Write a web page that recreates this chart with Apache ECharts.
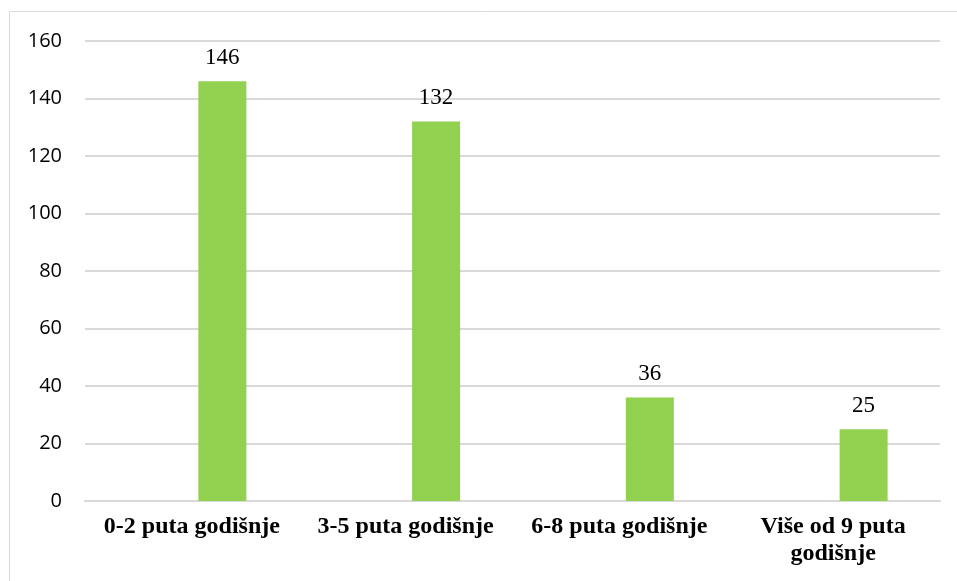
<!DOCTYPE html>
<html>
<head>
<meta charset="utf-8">
<script src="https://cdn.jsdelivr.net/npm/echarts@6/dist/echarts.min.js"></script>
<style>
html,body{margin:0;padding:0;background:#fff;}
#chart{width:957px;height:581px;}
</style>
</head>
<body>
<div id="chart"></div>
<script>
const categories = ['0-2 puta godišnje', '3-5 puta godišnje', '6-8 puta godišnje', 'Više od 9 puta\ngodišnje']
const values = [146, 132, 36, 25]
const emptyValues = ['-', '-', '-', '-']
const yTicks = { min: 0, max: 160, interval: 20 }

const myChart = echarts.init(document.getElementById('chart'))
const option = {
    animation: false,
    graphic: [{
        type: 'rect',
        shape: { x: 9.5, y: 11.5, width: 1000, height: 1000 },
        style: { fill: 'none', stroke: '#d9d9d9', lineWidth: 1 },
        silent: true
    }],
    grid: { left: 85, right: 17, top: 41, bottom: 80 },
    xAxis: {
        type: 'category',
        data: categories,
        axisLine: { show: true, lineStyle: { color: '#d9d9d9', width: 2 } },
        axisTick: { show: false },
        axisLabel: {
            color: '#000',
            fontFamily: 'Liberation Serif',
            fontWeight: 'bold',
            fontSize: 24,
            lineHeight: 27,
            margin: 12,
            interval: 0
        }
    },
    yAxis: {
        type: 'value',
        min: yTicks.min,
        max: yTicks.max,
        interval: yTicks.interval,
        axisLine: { show: false },
        axisTick: { show: false },
        splitLine: { lineStyle: { color: '#d9d9d9', width: 2 } },
        axisLabel: {
            color: '#000',
            fontFamily: 'Open Sans',
            fontSize: 20,
            margin: 23
        }
    },
    series: [
        {
            type: 'bar',
            data: emptyValues,
            barWidth: 48,
            barGap: '27%'
        },
        {
            type: 'bar',
            data: values,
            barWidth: 48,
            itemStyle: { color: '#92d050' },
            label: {
                show: true,
                position: 'top',
                distance: 12,
                color: '#000',
                fontFamily: 'Liberation Serif',
                fontSize: 23
            }
        }
    ]
}
myChart.setOption(option)
</script>
</body>
</html>
